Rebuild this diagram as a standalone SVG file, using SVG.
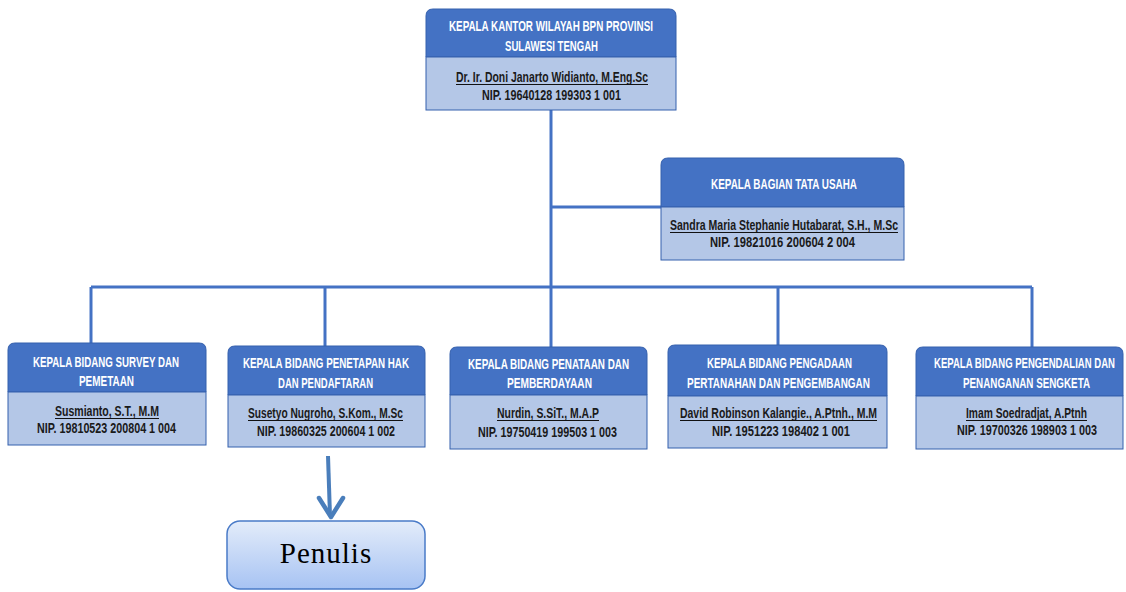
<svg xmlns="http://www.w3.org/2000/svg" width="1126" height="592" viewBox="0 0 1126 592">
<defs>
<style>
.hd{fill:#4472C4;stroke:#3560AD;stroke-width:1}
.lo{fill:#B4C7E7;stroke:#3560AD;stroke-width:1}
.ht{font-family:"Liberation Sans",Arial,sans-serif;font-size:15px;font-weight:bold;fill:#FFFFFF;text-anchor:start}
.nt{font-family:"Liberation Sans",Arial,sans-serif;font-size:15px;font-weight:bold;fill:#1A1A1A;text-anchor:start}
.ul{stroke:#111111;stroke-width:1}
.cn{stroke:#4472C4;stroke-width:3;fill:none}
</style>
<linearGradient id="pg" x1="0" y1="0" x2="0" y2="1">
<stop offset="0" stop-color="#E3ECFA"/>
<stop offset="1" stop-color="#A7C3F3"/>
</linearGradient>
</defs>
<rect width="1126" height="592" fill="#FFFFFF"/>

<g id="connectors">
<path class="cn" d="M551,110 V287"/>
<path class="cn" d="M551,207 H661"/>
<path class="cn" d="M91,287 H1032"/>
<path class="cn" d="M91,287 V343"/>
<path class="cn" d="M325,287 V346"/>
<path class="cn" d="M551,287 V347"/>
<path class="cn" d="M778,287 V345"/>
<path class="cn" d="M1032,287 V347"/>
<path d="M328,456 L330,516" stroke="#4A7EBB" stroke-width="4" fill="none"/>
<path d="M319,498 L331,517 L343,498" stroke="#4A7EBB" stroke-width="4.5" fill="none" stroke-linecap="round" stroke-linejoin="round"/>
</g>

<g id="kepala-kantor">
<path class="hd" d="M426,57 V16 Q426,9 433,9 H669 Q676,9 676,16 V57 Z"/>
<rect class="lo" x="426" y="57" width="250" height="53"/>
<text class="ht" transform="translate(449,31) scale(0.65,1)" textLength="313.8" lengthAdjust="spacingAndGlyphs">KEPALA KANTOR WILAYAH BPN PROVINSI</text>
<text class="ht" transform="translate(505,51) scale(0.65,1)" textLength="143.1" lengthAdjust="spacingAndGlyphs">SULAWESI TENGAH</text>
<text class="nt" transform="translate(456,82) scale(0.65,1)" textLength="295.4" lengthAdjust="spacingAndGlyphs">Dr. Ir. Doni Janarto Widianto, M.Eng.Sc</text>
<line class="ul" x1="456" y1="84.5" x2="648" y2="84.5"/>
<text class="nt" transform="translate(482,100) scale(0.65,1)" textLength="213.8" lengthAdjust="spacingAndGlyphs">NIP. 19640128 199303 1 001</text>
</g>

<g id="kepala-tata-usaha">
<path class="hd" d="M661,207 V165 Q661,158 668,158 H897 Q904,158 904,165 V207 Z"/>
<rect class="lo" x="661" y="207" width="243" height="53"/>
<text class="ht" transform="translate(711,189) scale(0.65,1)" textLength="224.6" lengthAdjust="spacingAndGlyphs">KEPALA BAGIAN TATA USAHA</text>
<text class="nt" transform="translate(670,230) scale(0.65,1)" textLength="350.8" lengthAdjust="spacingAndGlyphs">Sandra Maria Stephanie Hutabarat, S.H., M.Sc</text>
<line class="ul" x1="670" y1="232.5" x2="898" y2="232.5"/>
<text class="nt" transform="translate(710,247) scale(0.65,1)" textLength="223.1" lengthAdjust="spacingAndGlyphs">NIP. 19821016 200604 2 004</text>
</g>

<g id="bidang-survey">
<path class="hd" d="M8,392 V350 Q8,343 15,343 H199 Q206,343 206,350 V392 Z"/>
<rect class="lo" x="8" y="392" width="198" height="53"/>
<text class="ht" transform="translate(33,367) scale(0.65,1)" textLength="224.6" lengthAdjust="spacingAndGlyphs">KEPALA BIDANG SURVEY DAN</text>
<text class="ht" transform="translate(79,386) scale(0.65,1)" textLength="84.6" lengthAdjust="spacingAndGlyphs">PEMETAAN</text>
<text class="nt" transform="translate(55,416) scale(0.65,1)" textLength="160" lengthAdjust="spacingAndGlyphs">Susmianto, S.T., M.M</text>
<line class="ul" x1="55" y1="418.5" x2="159" y2="418.5"/>
<text class="nt" transform="translate(37,433) scale(0.65,1)" textLength="213.8" lengthAdjust="spacingAndGlyphs">NIP. 19810523 200804 1 004</text>
</g>

<g id="bidang-penetapan">
<path class="hd" d="M228,395 V353 Q228,346 235,346 H418 Q425,346 425,353 V395 Z"/>
<rect class="lo" x="228" y="395" width="197" height="52"/>
<text class="ht" transform="translate(243,368) scale(0.65,1)" textLength="255.4" lengthAdjust="spacingAndGlyphs">KEPALA BIDANG PENETAPAN  HAK</text>
<text class="ht" transform="translate(278,388) scale(0.65,1)" textLength="146.2" lengthAdjust="spacingAndGlyphs">DAN PENDAFTARAN</text>
<text class="nt" transform="translate(248,418) scale(0.65,1)" textLength="238.5" lengthAdjust="spacingAndGlyphs">Susetyo Nugroho, S.Kom., M.Sc</text>
<line class="ul" x1="248" y1="420.5" x2="403" y2="420.5"/>
<text class="nt" transform="translate(257,436) scale(0.65,1)" textLength="212.3" lengthAdjust="spacingAndGlyphs">NIP. 19860325 200604 1 002</text>
</g>

<g id="bidang-penataan">
<path class="hd" d="M450,395 V354 Q450,347 457,347 H640 Q647,347 647,354 V395 Z"/>
<rect class="lo" x="450" y="395" width="197" height="54"/>
<text class="ht" transform="translate(468,369) scale(0.65,1)" textLength="247.7" lengthAdjust="spacingAndGlyphs">KEPALA BIDANG PENATAAN DAN</text>
<text class="ht" transform="translate(507,388) scale(0.65,1)" textLength="130.8" lengthAdjust="spacingAndGlyphs">PEMBERDAYAAN</text>
<text class="nt" transform="translate(497,418) scale(0.65,1)" textLength="156.9" lengthAdjust="spacingAndGlyphs">Nurdin, S.SiT., M.A.P</text>
<line class="ul" x1="497" y1="420.5" x2="599" y2="420.5"/>
<text class="nt" transform="translate(478,437) scale(0.65,1)" textLength="213.8" lengthAdjust="spacingAndGlyphs">NIP. 19750419 199503 1 003</text>
</g>

<g id="bidang-pengadaan">
<path class="hd" d="M668,396 V352 Q668,345 675,345 H880 Q887,345 887,352 V396 Z"/>
<rect class="lo" x="668" y="396" width="219" height="52"/>
<text class="ht" transform="translate(707,368) scale(0.65,1)" textLength="223.1" lengthAdjust="spacingAndGlyphs">KEPALA BIDANG PENGADAAN</text>
<text class="ht" transform="translate(687,388) scale(0.65,1)" textLength="281.5" lengthAdjust="spacingAndGlyphs">PERTANAHAN DAN PENGEMBANGAN</text>
<text class="nt" transform="translate(680,418) scale(0.65,1)" textLength="303.1" lengthAdjust="spacingAndGlyphs">David Robinson Kalangie., A.Ptnh., M.M</text>
<line class="ul" x1="680" y1="420.5" x2="877" y2="420.5"/>
<text class="nt" transform="translate(712,436) scale(0.65,1)" textLength="212.3" lengthAdjust="spacingAndGlyphs">NIP. 1951223 198402 1 001</text>
</g>

<g id="bidang-pengendalian">
<path class="hd" d="M916,396 V354 Q916,347 923,347 H1116 Q1123,347 1123,354 V396 Z"/>
<rect class="lo" x="916" y="396" width="207" height="53"/>
<text class="ht" transform="translate(934,368) scale(0.65,1)" textLength="278.5" lengthAdjust="spacingAndGlyphs">KEPALA BIDANG PENGENDALIAN DAN</text>
<text class="ht" transform="translate(963,388) scale(0.65,1)" textLength="195.4" lengthAdjust="spacingAndGlyphs">PENANGANAN SENGKETA</text>
<text class="nt" transform="translate(966,418) scale(0.65,1)" textLength="186.2" lengthAdjust="spacingAndGlyphs">Imam Soedradjat, A.Ptnh</text>
<line class="ul" x1="966" y1="420.5" x2="1087" y2="420.5"/>
<text class="nt" transform="translate(957,435) scale(0.65,1)" textLength="215.4" lengthAdjust="spacingAndGlyphs">NIP. 19700326 198903 1 003</text>
</g>

<g id="penulis">
<rect x="227" y="521" width="198" height="68" rx="13" ry="13" fill="url(#pg)" stroke="#4A7BC8" stroke-width="1.5"/>
<text x="326" y="563" font-family="'Liberation Serif','Times New Roman',serif" font-size="29" fill="#000000" text-anchor="middle" letter-spacing="1">Penulis</text>
</g>
</svg>
